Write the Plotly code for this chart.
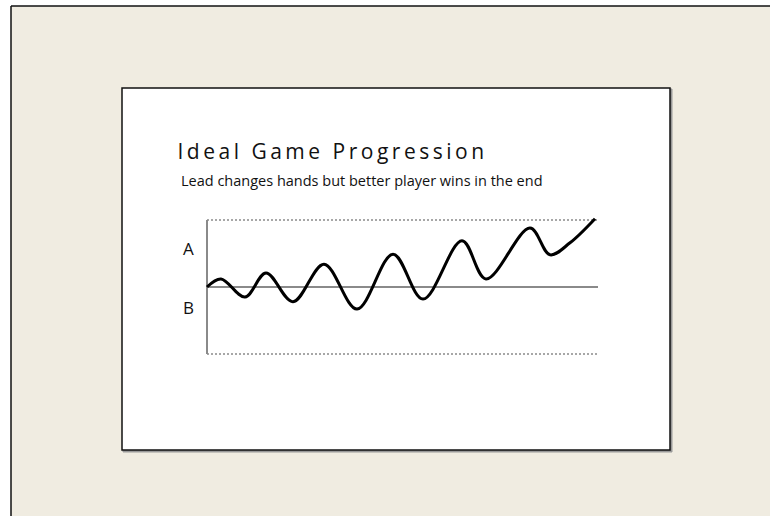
import plotly.graph_objects as go

# ---- data ----
progress_x = [0, 14, 38, 59, 86, 117, 150, 186, 216, 255, 279, 323, 343, 363, 388]
lead_y = [0, 0.12, -0.15, 0.21, -0.22, 0.34, -0.33, 0.49, -0.18, 0.69, 0.12, 0.88, 0.48, 0.66, 1.02]
x_end = 391
band_labels = ["A", "B"]
band_label_y = [0.58, -0.30]
title_text = "Ideal Game Progression"
subtitle_text = "Lead changes hands but better player wins in the end"

W, H = 770, 516
ML, MR, MT, MB = 160, 160, 200, 150
PW, PH = W - ML - MR, H - MT - MB


def px(x):
    return (x - ML) / PW


def py(y):
    return 1 - (y - MT) / PH


BEIGE = "#f0ece1"
GRAY = "#8a8a8a"
TITLE_SIZE = 21
TITLE_SPACING = 3.5

fig = go.Figure()
fig.add_trace(go.Scatter(
    x=progress_x, y=lead_y, mode="lines",
    line=dict(color="black", width=3, shape="spline", smoothing=1.0),
    hoverinfo="skip", showlegend=False,
))

shapes = []
# white strips outside the mat (left and top)
shapes.append(dict(type="rect", xref="paper", yref="paper", x0=px(-5), x1=px(11), y0=py(-5), y1=py(530),
                   line=dict(width=0, color="white"), fillcolor="white", layer="below"))
shapes.append(dict(type="rect", xref="paper", yref="paper", x0=px(-5), x1=px(780), y0=py(-5), y1=py(6),
                   line=dict(width=0, color="white"), fillcolor="white", layer="below"))
# outer frame lines
shapes.append(dict(type="line", xref="paper", yref="paper", x0=px(11), x1=px(11), y0=py(6), y1=py(520),
                   line=dict(color="#111", width=1.5), layer="below"))
shapes.append(dict(type="line", xref="paper", yref="paper", x0=px(11), x1=px(780), y0=py(6), y1=py(6),
                   line=dict(color="#111", width=1.5), layer="below"))
# panel shadow
shapes.append(dict(type="rect", xref="paper", yref="paper", x0=px(123), x1=px(672), y0=py(89), y1=py(452),
                   line=dict(color="#999", width=1), fillcolor="#999", layer="below"))
# white panel
shapes.append(dict(type="rect", xref="paper", yref="paper", x0=px(122), x1=px(670), y0=py(88), y1=py(450),
                   line=dict(color="#111", width=1.5), fillcolor="white", layer="below"))
# guide lines in data coords
shapes.append(dict(type="line", x0=0, x1=x_end, y0=1, y1=1, line=dict(color=GRAY, width=1.5, dash="2px,2px"), layer="below"))
shapes.append(dict(type="line", x0=0, x1=x_end, y0=-1, y1=-1, line=dict(color=GRAY, width=1.5, dash="2px,2px"), layer="below"))
shapes.append(dict(type="line", x0=0, x1=x_end, y0=0, y1=0, line=dict(color=GRAY, width=2), layer="below"))
shapes.append(dict(type="line", x0=0, x1=0, y0=-1, y1=1, line=dict(color=GRAY, width=2), layer="below"))

annotations = []
for lab, ly in zip(band_labels, band_label_y):
    annotations.append(dict(text=lab, x=-19, y=ly, xref="x", yref="y", showarrow=False,
                            xanchor="center", yanchor="middle",
                            font=dict(family="Open Sans", size=17, color="#111")))
# letter-spacing widens the text symmetrically about its centre, so offset the anchor
title_shift = len(title_text) * TITLE_SPACING / 2
annotations.append(dict(text=title_text, x=px(175 + title_shift), y=py(151), xref="paper", yref="paper",
                        showarrow=False, xanchor="left", yanchor="middle",
                        font=dict(family="Open Sans", size=TITLE_SIZE, color="#111")))
annotations.append(dict(text=subtitle_text, x=px(179), y=py(180), xref="paper", yref="paper",
                        showarrow=False, xanchor="left", yanchor="middle",
                        font=dict(family="Open Sans", size=14.5, color="#111")))

fig.update_layout(
    width=W, height=H,
    margin=dict(l=ML, r=MR, t=MT, b=MB, pad=0),
    paper_bgcolor=BEIGE, plot_bgcolor="rgba(0,0,0,0)",
    xaxis=dict(range=[ML - 207, ML + PW - 207], visible=False, fixedrange=True),
    yaxis=dict(range=[(287 - (MT + PH)) / 67, (287 - MT) / 67], visible=False, fixedrange=True),
    shapes=shapes, annotations=annotations,
    showlegend=False,
)

post = """
document.documentElement.style.margin = '0';
document.documentElement.style.padding = '0';
document.documentElement.style.overflow = 'hidden';
document.documentElement.style.background = '%s';
document.body.style.margin = '0';
document.body.style.padding = '0';
document.body.style.overflow = 'hidden';
var t = document.querySelectorAll('.annotation-text');
t.forEach(function(el){ if (el.textContent === 'Ideal Game Progression') { el.style.letterSpacing = '%spx'; } });
""" % (BEIGE, TITLE_SPACING)

fig.write_html("out.html", post_script=post, config={"displayModeBar": False})
